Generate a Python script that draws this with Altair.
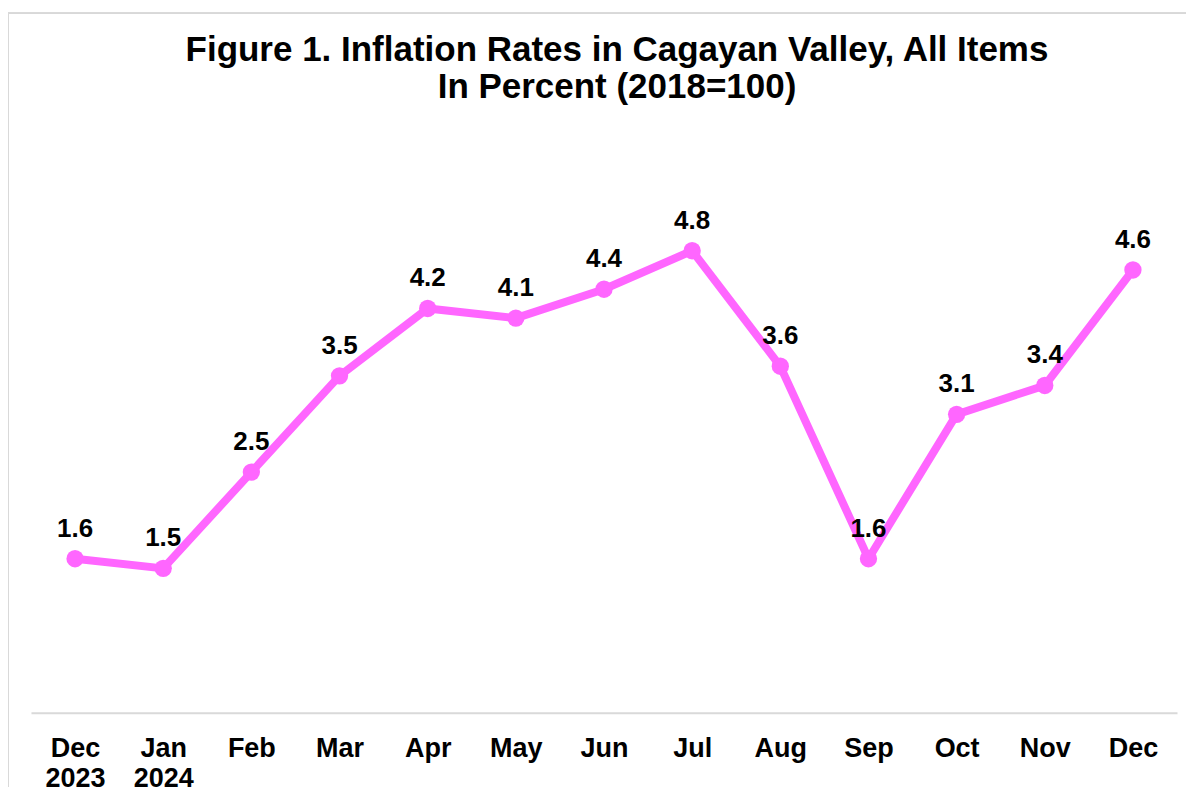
import altair as alt
import pandas as pd

months = ["Dec|2023", "Jan|2024", "Feb", "Mar", "Apr", "May", "Jun",
          "Jul", "Aug", "Sep", "Oct", "Nov", "Dec"]
rates = [1.6, 1.5, 2.5, 3.5, 4.2, 4.1, 4.4, 4.8, 3.6, 1.6, 3.1, 3.4, 4.6]
title_lines = ["Figure 1. Inflation Rates in Cagayan Valley, All Items",
               "In Percent (2018=100)"]

df = pd.DataFrame({"month": months, "rate": rates})

FONT = "Liberation Sans"
PINK = "#FF66FF"
W, H = 1147, 578

x = alt.X("month:N", sort=months, title=None,
          scale=alt.Scale(padding=0.5),
          axis=alt.Axis(labelExpr="split(datum.label, '|')", labelAngle=0,
                        labelFont=FONT, labelFontSize=27, labelFontWeight="bold",
                        labelColor="#000000", labelLineHeight=30,
                        labelPadding=23, ticks=False, tickSize=0,
                        domainColor="#d9d9d9", domainWidth=2, grid=False))
y = alt.Y("rate:Q", scale=alt.Scale(domain=[0, 6]), axis=None)

base = alt.Chart(df)
line = base.mark_line(color=PINK, strokeWidth=8).encode(x=x, y=y)
pts = base.mark_point(filled=True, color=PINK, size=300, opacity=1).encode(x=x, y=y)
labels = base.mark_text(font=FONT, fontSize=26, fontWeight="bold", color="#000000",
                        baseline="alphabetic", dy=-22).encode(
    x=x, y=y, text=alt.Text("rate:Q", format=".1f"))

border_left = base.mark_rule(color="#d9d9d9", strokeWidth=1).encode(
    x=alt.value(-22.5), y=alt.value(-122.5), y2=alt.value(652))
border_top = base.mark_rule(color="#d9d9d9", strokeWidth=1).encode(
    x=alt.value(-22.5), x2=alt.value(1156), y=alt.value(-122.5))

chart = alt.layer(border_left, border_top, line, pts, labels).properties(
    width=W, height=H,
    padding={"top": 4, "left": 0, "right": 0, "bottom": 0},
    title=alt.TitleParams(title_lines, font=FONT, fontSize=35, fontWeight="bold",
                          color="#000000", lineHeight=37, anchor="middle",
                          frame="group", offset=-93, dx=13),
).configure_view(stroke=None)

chart.save("out.html", embed_options={"renderer": "svg", "actions": False})
